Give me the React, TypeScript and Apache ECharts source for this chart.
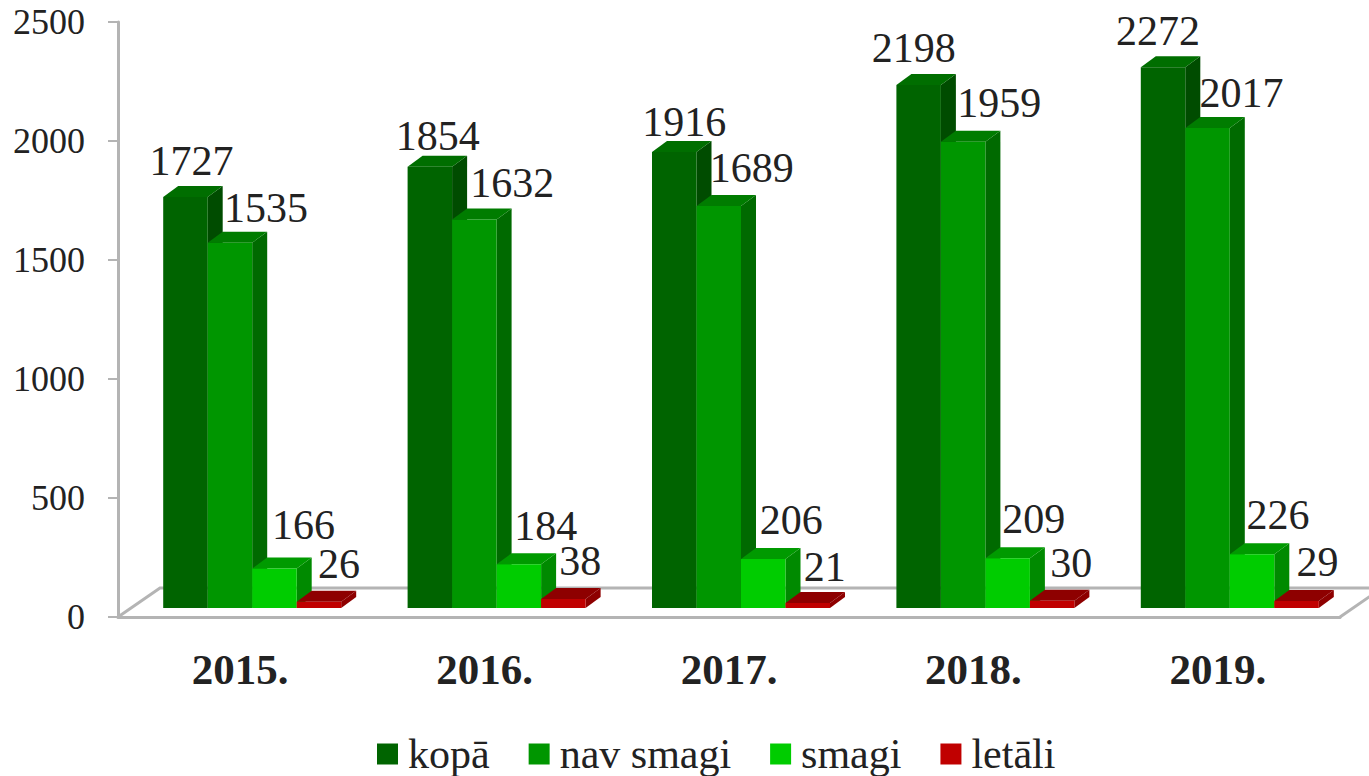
import React, { useEffect, useRef } from "react";
import * as echarts from "echarts";

const years = ["2015.", "2016.", "2017.", "2018.", "2019."];
const yTicks = { min: 0, max: 2500, interval: 500 };

const kopa = [1727, 1854, 1916, 2198, 2272];
const navSmagi = [1535, 1632, 1689, 1959, 2017];
const smagi = [166, 184, 206, 209, 226];
const letali = [26, 38, 21, 30, 29];

const names = ["kopā", "nav smagi", "smagi", "letāli"];
const seriesValues = [kopa, navSmagi, smagi, letali];

// colours: front, top, side
const palette = [
  ["#006400", "#006e00", "#004c00"],
  ["#009600", "#007c00", "#006a00"],
  ["#00cc00", "#009a00", "#008a00"],
  ["#c00000", "#8e0000", "#8e0000"],
];

// hand placement of the value labels relative to the bar's front-top centre
const labelDx = [
  [6, 8, 10, -5, -5],
  [36, 38, 33, 36, 34],
  [29, 27, 28, 26, 26],
  [20, 17, 17, 19, 21],
];
const labelDy = [
  [-36, -31, -30, -37, -36],
  [-35, -37, -38, -39, -35],
  [-43, -38, -39, -39, -39],
  [-38, -38, -36, -38, -39],
];

const SERIF = '"Liberation Serif", serif';
const TEXT = "#222222";
const AXIS = "#b4b4b4";
const BAR_W = 44.5;
const DEPTH_X = 15;
const DEPTH_Y = 11;
const LIFT = 9;
const FIRST_BAR = -77;

function barRenderer(seriesIndex: number) {
  return (params: any, api: any) => {
    const cat = api.value(0);
    const val = api.value(1);
    const [cx, vy] = api.coord([cat, val]);
    const [, by] = api.coord([cat, 0]);
    const x0 = cx + FIRST_BAR + seriesIndex * BAR_W;
    const x1 = x0 + BAR_W;
    const top = vy - LIFT;
    const bot = by - LIFT;
    const [front, topC, side] = palette[seriesIndex];
    return {
      type: "group",
      children: [
        {
          type: "polygon",
          shape: { points: [[x1, top], [x1 + DEPTH_X, top - DEPTH_Y], [x1 + DEPTH_X, bot - DEPTH_Y], [x1, bot]] },
          style: { fill: side },
        },
        {
          type: "polygon",
          shape: { points: [[x0, top], [x0 + DEPTH_X, top - DEPTH_Y], [x1 + DEPTH_X, top - DEPTH_Y], [x1, top]] },
          style: { fill: topC },
        },
        {
          type: "rect",
          shape: { x: x0, y: top, width: BAR_W, height: bot - top },
          style: { fill: front },
        },
        {
          type: "text",
          x: x0 + BAR_W / 2 + labelDx[seriesIndex][cat],
          y: top + labelDy[seriesIndex][cat],
          z2: 50,
          style: {
            text: String(val),
            fill: TEXT,
            font: `42px ${SERIF}`,
            lineHeight: 32,
            align: "center",
            verticalAlign: "middle",
          },
        },
      ],
    };
  };
}

function floorRenderer(params: any, api: any) {
  const g = params.coordSys;
  const left = g.x;
  const right = g.x + g.width;
  const bottom = g.y + g.height;
  const back = bottom - 29;
  const style = { stroke: AXIS, lineWidth: 3, fill: "none" };
  return {
    type: "group",
    children: [
      {
        type: "polyline",
        shape: { points: [[left, bottom], [left + 42, back], [right + 42, back], [right, bottom]] },
        style,
      },
    ],
  };
}

export default function App() {
  const ref = useRef<HTMLDivElement>(null);
  useEffect(() => {
    const chart = echarts.init(ref.current!, null, { renderer: "svg" });
    chart.setOption({
      animation: false,
      backgroundColor: "#ffffff",
      grid: { left: 118, top: 22, width: 1222, height: 595, containLabel: false },
      xAxis: {
        type: "category",
        data: years,
        axisLine: { lineStyle: { color: AXIS, width: 3 } },
        axisTick: { length: 11, lineStyle: { color: AXIS, width: 2 } },
        axisLabel: {
          margin: 31,
          color: TEXT,
          fontFamily: SERIF,
          fontWeight: "bold",
          fontSize: 43,
        },
        splitLine: { show: false },
      },
      yAxis: {
        type: "value",
        ...yTicks,
        axisLine: { show: true, lineStyle: { color: AXIS, width: 3 } },
        axisTick: { show: true, length: 10, lineStyle: { color: AXIS, width: 2 } },
        axisLabel: {
          margin: 33,
          color: TEXT,
          fontFamily: SERIF,
          fontSize: 36,
          formatter: (v: number) => String(v),
        },
        splitLine: { show: false },
      },
      legend: {
        left: 372,
        top: 728,
        icon: "rect",
        itemWidth: 21,
        itemHeight: 21,
        itemGap: 39,
        data: names,
        textStyle: { color: TEXT, fontFamily: SERIF, fontSize: 42, lineHeight: 40, padding: [0, 0, 0, 5] },
      },
      series: [
        {
          type: "custom",
          name: "floor",
          silent: true,
          clip: false,
          z: 1,
          data: [[0, 0]],
          renderItem: floorRenderer,
        },
        ...seriesValues.map((vals, i) => ({
          type: "custom",
          name: names[i],
          clip: false,
          z: 2 + i,
          itemStyle: { color: palette[i][0] },
          encode: { x: 0, y: 1 },
          data: vals.map((v, c) => [c, v]),
          renderItem: barRenderer(i),
        })),
      ],
    });
    return () => chart.dispose();
  }, []);
  return (
    <div
      ref={ref}
      style={{ position: "fixed", left: 0, top: 0, width: 1369, height: 776 }}
    />
  );
}
